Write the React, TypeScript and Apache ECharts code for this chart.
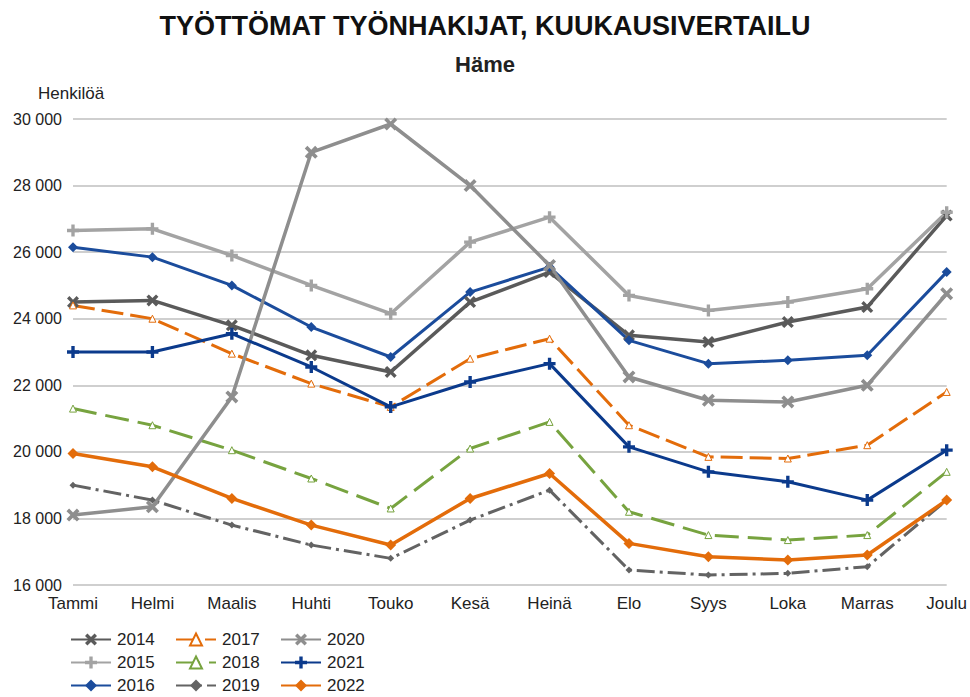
import React, { useEffect, useRef } from "react";
import * as echarts from "echarts";

const months = ["Tammi", "Helmi", "Maalis", "Huhti", "Touko", "Kesä", "Heinä", "Elo", "Syys", "Loka", "Marras", "Joulu"];

const y2014 = [24500, 24550, 23800, 22900, 22400, 24500, 25400, 23500, 23300, 23900, 24350, 27100];
const y2015 = [26650, 26700, 25900, 25000, 24150, 26300, 27050, 24700, 24250, 24500, 24900, 27200];
const y2016 = [26150, 25850, 25000, 23750, 22850, 24800, 25550, 23350, 22650, 22750, 22900, 25400];
const y2017 = [24400, 24000, 22950, 22050, 21350, 22800, 23400, 20800, 19850, 19800, 20200, 21800];
const y2018 = [21300, 20800, 20050, 19200, 18300, 20100, 20900, 18200, 17500, 17350, 17500, 19400];
const y2019 = [19000, 18550, 17800, 17200, 16800, 17950, 18850, 16450, 16300, 16350, 16550, 18550];
const y2020 = [18100, 18350, 21650, 29000, 29850, 28000, 25600, 22250, 21550, 21500, 22000, 24750];
const y2021 = [23000, 23000, 23550, 22550, 21350, 22100, 22650, 20150, 19400, 19100, 18550, 20050];
const y2022 = [19950, 19550, 18600, 17800, 17200, 18600, 19350, 17250, 16850, 16750, 16900, 18550];

const legendColumns = [
  ["2014", "2015", "2016"],
  ["2017", "2018", "2019"],
  ["2020", "2021", "2022"],
];

const yTicks = { min: 16000, max: 30000, interval: 2000 };

const X_SYM = "path://M2,0 L5,3 L8,0 L10,2 L7,5 L10,8 L8,10 L5,7 L2,10 L0,8 L3,5 L0,2 Z";
const PLUS_SYM = "path://M3.6,0 H6.4 V3.6 H10 V6.4 H6.4 V10 H3.6 V6.4 H0 V3.6 H3.6 Z";

export default function App() {
  const ref = useRef<HTMLDivElement>(null);
  useEffect(() => {
    if (!ref.current) return;
    const chart = echarts.init(ref.current, null, { renderer: "svg" });
    const font = "Liberation Sans, Arial, sans-serif";
    const mk = (name: string, data: number[], color: string, width: number, symbol: string, symbolSize: number, extra: any = {}) => ({
      name,
      type: "line",
      data,
      symbol,
      symbolSize,
      showSymbol: true,
      lineStyle: { color, width, type: extra.dash || "solid" },
      itemStyle: extra.itemStyle || { color, borderColor: color, borderWidth: 0 },
      emphasis: { disabled: true },
    });
    const orange = "#e36c0a";
    const green = "#77a33f";
    const colLeft = [70, 175, 280];
    const rowTop = [631, 654, 677];
    const legends: any[] = [];
    legendColumns.forEach((col, ci) =>
      col.forEach((name, ri) =>
        legends.push({
          orient: "horizontal",
          left: colLeft[ci],
          top: rowTop[ri],
          padding: 0,
          itemWidth: 40,
          itemHeight: 15,
          itemGap: 0,
          textStyle: { fontFamily: font, fontSize: 17, color: "#222", padding: [0, 0, 0, 1] },
          selectedMode: false,
          data: [name],
        })
      )
    );
    chart.setOption({
      animation: false,
      backgroundColor: "#fff",
      textStyle: { fontFamily: font },
      graphic: [
        { type: "text", left: "center", top: 12, style: { text: "TYÖTTÖMAT TYÖNHAKIJAT, KUUKAUSIVERTAILU", font: "bold 27px Liberation Sans, Arial, sans-serif", fill: "#111" } },
        { type: "text", left: "center", top: 53, style: { text: "Häme", font: "bold 22px Liberation Sans, Arial, sans-serif", fill: "#222" } },
        { type: "text", left: 38, top: 85, style: { text: "Henkilöä", font: "17px Liberation Sans, Arial, sans-serif", fill: "#222" } },
      ],
      legend: legends,
      grid: { left: 73, right: 23, top: 119, bottom: 112, containLabel: false },
      xAxis: {
        type: "category",
        data: months,
        boundaryGap: false,
        axisLine: { show: false },
        axisTick: { show: false },
        axisLabel: { fontFamily: font, fontSize: 17, color: "#222", margin: 10 },
      },
      yAxis: {
        type: "value",
        min: yTicks.min,
        max: yTicks.max,
        interval: yTicks.interval,
        axisLine: { show: false },
        axisTick: { show: false },
        splitLine: { lineStyle: { color: "#cfcfcf", width: 2 } },
        axisLabel: {
          fontFamily: font,
          fontSize: 16,
          color: "#222",
          margin: 11,
          formatter: (v: number) => String(v).replace(/\B(?=(\d{3})+(?!\d))/g, " "),
        },
      },
      series: [
        mk("2014", y2014, "#5a5a5a", 3.5, X_SYM, 12),
        mk("2015", y2015, "#a3a3a3", 3.5, PLUS_SYM, 12),
        mk("2016", y2016, "#1b4c9c", 3, "diamond", 10),
        mk("2017", y2017, orange, 3, "triangle", 7, { dash: [22, 7], itemStyle: { color: "#fff", borderColor: orange, borderWidth: 1 } }),
        mk("2018", y2018, green, 3, "triangle", 7, { dash: [24, 9], itemStyle: { color: "#fff", borderColor: green, borderWidth: 1 } }),
        mk("2019", y2019, "#636363", 3, "diamond", 7, { dash: [18, 5, 3, 5] }),
        mk("2020", y2020, "#8e8e8e", 3.5, X_SYM, 13),
        mk("2021", y2021, "#0b3a8c", 3, PLUS_SYM, 12),
        mk("2022", y2022, orange, 3.5, "diamond", 11),
      ],
    });
    return () => chart.dispose();
  }, []);
  return <div ref={ref} style={{ position: "fixed", left: 0, top: 0, width: 970, height: 697 }} />;
}
